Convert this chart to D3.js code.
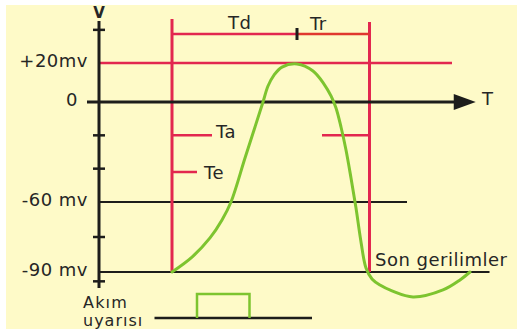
<!DOCTYPE html>
<html>
<head>
<meta charset="utf-8">
<script src="https://cdn.jsdelivr.net/npm/d3@7"></script>
<style>
  body { margin: 0; background: #fff; }
  svg { display: block; font-family: 'DejaVu Sans', sans-serif; }
</style>
</head>
<body>
<div id="chart"></div>
<script>
// action potential curve: time (arbitrary units, stimulus at 0) vs millivolts
const curveT = [0, 0.8, 1.52, 2.0, 2.36, 2.92, 3.32, 3.64, 3.84, 4.08, 4.4, 5.0,
  5.64, 6.08, 6.36, 6.56, 6.76, 6.96, 7.16, 7.36, 7.56, 7.76, 8.0, 8.32, 8.8, 9.64, 10.84, 11.52, 11.92];
const curveMv = [-90, -83.6, -75.4, -67.7, -60, -33.6, -15, 0, 8.2, 13.8, 17.9, 19.5,
  15.9, 9.2, 3.1, -3.6, -15, -28.8, -45.6, -62.6, -77.1, -88.3, -93, -95.6, -98.1, -100.7, -97.7, -93.4, -90];

// labelled voltage levels
const levelLabels = ['+20mv', '0', '-60 mv', '-90 mv'];
const levelMv = [20, 0, -60, -90];
const extraTicksMv = [37, -20, -40, -75, -94];

// time marks
const stimT = 0;       // stimulus (red vertical)
const peakT = 5;       // end of Td / start of Tr
const endT = 7.9;      // end of Tr
const taMv = -20, teMv = -42;
const pulseT = [1.0, 3.1];

const width = 517, height = 329;

const svg = d3.select('#chart').append('svg')
  .attr('width', width)
  .attr('height', height);

svg.append('rect')
  .attr('x', 6).attr('y', 5)
  .attr('width', width - 6).attr('height', height - 5)
  .attr('fill', '#fefac8');

// schematic (non-linear) voltage axis
const y = d3.scaleLinear()
  .domain([-90, -60, 0, 20])
  .range([272, 202, 102, 63]);

const x = d3.scaleLinear()
  .domain([0, 10])
  .range([172, 422]);

const axisX = x(-2.92);
const red = '#e2274f';
const black = '#1d1d1b';
const green = '#7dc42f';

// horizontal reference lines
svg.append('line')
  .attr('x1', axisX).attr('x2', x(11.2))
  .attr('y1', y(20)).attr('y2', y(20))
  .attr('stroke', red).attr('stroke-width', 2.5);

svg.append('line')
  .attr('x1', axisX).attr('x2', x(9.4))
  .attr('y1', y(-60)).attr('y2', y(-60))
  .attr('stroke', black).attr('stroke-width', 2.2);

svg.append('line')
  .attr('x1', axisX).attr('x2', x(12.7))
  .attr('y1', y(-90)).attr('y2', y(-90))
  .attr('stroke', black).attr('stroke-width', 2.2);

// red vertical lines
svg.append('line')
  .attr('x1', x(stimT)).attr('x2', x(stimT))
  .attr('y1', 19).attr('y2', y(-90))
  .attr('stroke', red).attr('stroke-width', 3);

svg.append('line')
  .attr('x1', x(endT)).attr('x2', x(endT))
  .attr('y1', 22).attr('y2', y(-90))
  .attr('stroke', red).attr('stroke-width', 3);

// Td / Tr bracket
svg.append('line')
  .attr('x1', x(stimT)).attr('x2', x(peakT))
  .attr('y1', 34).attr('y2', 34)
  .attr('stroke', red).attr('stroke-width', 2.5);
svg.append('line')
  .attr('x1', x(peakT)).attr('x2', x(endT))
  .attr('y1', 34).attr('y2', 34)
  .attr('stroke', '#e0372e').attr('stroke-width', 2.5);
svg.append('line')
  .attr('x1', x(peakT)).attr('x2', x(peakT))
  .attr('y1', 28).attr('y2', 40)
  .attr('stroke', black).attr('stroke-width', 3);

// Ta, Te and right marker
svg.append('line')
  .attr('x1', x(stimT)).attr('x2', x(1.6))
  .attr('y1', y(taMv)).attr('y2', y(taMv))
  .attr('stroke', red).attr('stroke-width', 2.5);
svg.append('line')
  .attr('x1', x(stimT)).attr('x2', x(1.0))
  .attr('y1', y(teMv)).attr('y2', y(teMv))
  .attr('stroke', red).attr('stroke-width', 2.5);
svg.append('line')
  .attr('x1', x(6.0)).attr('x2', x(endT))
  .attr('y1', y(taMv)).attr('y2', y(taMv))
  .attr('stroke', red).attr('stroke-width', 2.5);

// x axis (0 mV) with arrow
svg.append('line')
  .attr('x1', axisX - 12).attr('x2', x(11.4))
  .attr('y1', y(0)).attr('y2', y(0))
  .attr('stroke', black).attr('stroke-width', 3);
const tip = x(12.15);
svg.append('path')
  .attr('d', `M${tip - 22},${y(0) - 8}L${tip},${y(0)}L${tip - 22},${y(0) + 8}Z`)
  .attr('fill', black);

// y axis
svg.append('line')
  .attr('x1', axisX).attr('x2', axisX)
  .attr('y1', 21).attr('y2', 288)
  .attr('stroke', black).attr('stroke-width', 3);

svg.selectAll('.tick')
  .data(extraTicksMv)
  .join('line')
  .attr('x1', axisX - 6).attr('x2', axisX + 6)
  .attr('y1', (d) => y(d)).attr('y2', (d) => y(d))
  .attr('stroke', black).attr('stroke-width', 2.5);

// action potential curve
const pts = curveT.map((t, i) => [t, curveMv[i]]);
svg.append('path')
  .datum(pts)
  .attr('fill', 'none')
  .attr('stroke', green)
  .attr('stroke-width', 3)
  .attr('stroke-linecap', 'round')
  .attr('d', d3.line().curve(d3.curveCatmullRom.alpha(0.5))
    .x((d) => x(d[0])).y((d) => y(d[1])));

// stimulus trace
const stimY = 318;
svg.append('line')
  .attr('x1', x(-0.7)).attr('x2', x(5.6))
  .attr('y1', stimY).attr('y2', stimY)
  .attr('stroke', black).attr('stroke-width', 2.5);
svg.append('path')
  .attr('d', `M${x(pulseT[0])},${stimY}V294H${x(pulseT[1])}V${stimY}`)
  .attr('fill', 'none')
  .attr('stroke', green).attr('stroke-width', 2.5);

// text labels
const txt = (s, tx, ty, anchor = 'start', size = 18, spacing = 0.5) => svg.append('text')
  .attr('x', tx).attr('y', ty)
  .attr('dy', '0.36em')
  .attr('text-anchor', anchor)
  .attr('font-size', size)
  .attr('letter-spacing', spacing)
  .attr('fill', '#262626')
  .text(s);

levelLabels.forEach((l, i) => {
  txt(l, l === '0' ? 78 : 88, y(levelMv[i]) - 2, 'end');
});

svg.append('text')
  .attr('x', axisX).attr('y', 13)
  .attr('dy', '0.36em')
  .attr('text-anchor', 'middle')
  .attr('font-size', 15)
  .attr('font-weight', 'bold')
  .attr('fill', '#262626')
  .text('V');

txt('T', 482, y(0) - 3);
txt('Td', 228, 23);
txt('Tr', 310, 24);
txt('Ta', 216, y(taMv) - 4);
txt('Te', 204, y(teMv) + 1);
txt('Son gerilimler', 375, 260);
txt('Akım', 83, 302, 'start', 16, 1.2);
txt('uyarısı', 83, 320, 'start', 16, 1);
</script>
</body>
</html>
